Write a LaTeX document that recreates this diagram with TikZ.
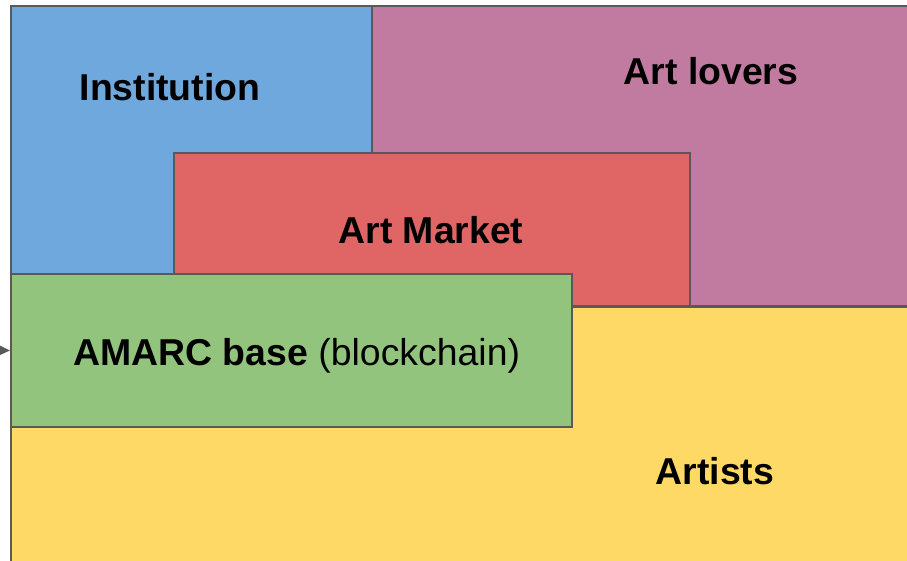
\documentclass[tikz,border=0pt]{standalone}
\usepackage{fontspec}
\setmainfont{Liberation Sans}
\usetikzlibrary{arrows.meta}
\definecolor{edgegray}{HTML}{595959}
\definecolor{instblue}{HTML}{6FA8DC}
\definecolor{loverpink}{HTML}{C27BA0}
\definecolor{marketred}{HTML}{E06666}
\definecolor{artistyellow}{HTML}{FFD966}
\definecolor{basegreen}{HTML}{93C47D}
\begin{document}
\begin{tikzpicture}[x=1pt,y=-1pt,
  area/.style={draw=edgegray, line width=2pt, rectangle, inner sep=0pt, anchor=north west},
  lbl/.style={font=\fontsize{37.4}{44}\selectfont\bfseries, anchor=base, inner sep=0pt}]
\useasboundingbox (0,0) rectangle (907,561);
\clip (0,0) rectangle (907,561);
% background areas
\node[area, fill=instblue, minimum width=361pt, minimum height=280pt] (inst) at (10,5) {};
\node[area, fill=loverpink, minimum width=560pt, minimum height=300pt] (lovers) at (371,5) {};
\node[area, fill=artistyellow, minimum width=920pt, minimum height=280pt] (artists) at (10,306) {};
\node[area, fill=marketred, minimum width=516pt, minimum height=153pt] (market) at (173,152) {};
\node[area, fill=basegreen, minimum width=561pt, minimum height=153pt] (amarc) at (10,273) {};
% labels
\node[lbl] (tinst) at (170,101) {Institution};
\node[lbl] (tlovers) at (711,85) {Art lovers};
\node[lbl] (tmarket) at (431,244) {Art Market};
\node[lbl] (tartists) at (715,484) {Artists};
\node[lbl, anchor=base west] (tamarc) at (73,365) {AMARC base \mdseries(blockchain)};
% incoming arrow
\coordinate (arrstart) at (-20,350);
\draw[edgegray, line width=1.5pt, -{Triangle[length=11pt,width=10pt]}] (arrstart) -- (amarc.west);
\end{tikzpicture}
\end{document}
